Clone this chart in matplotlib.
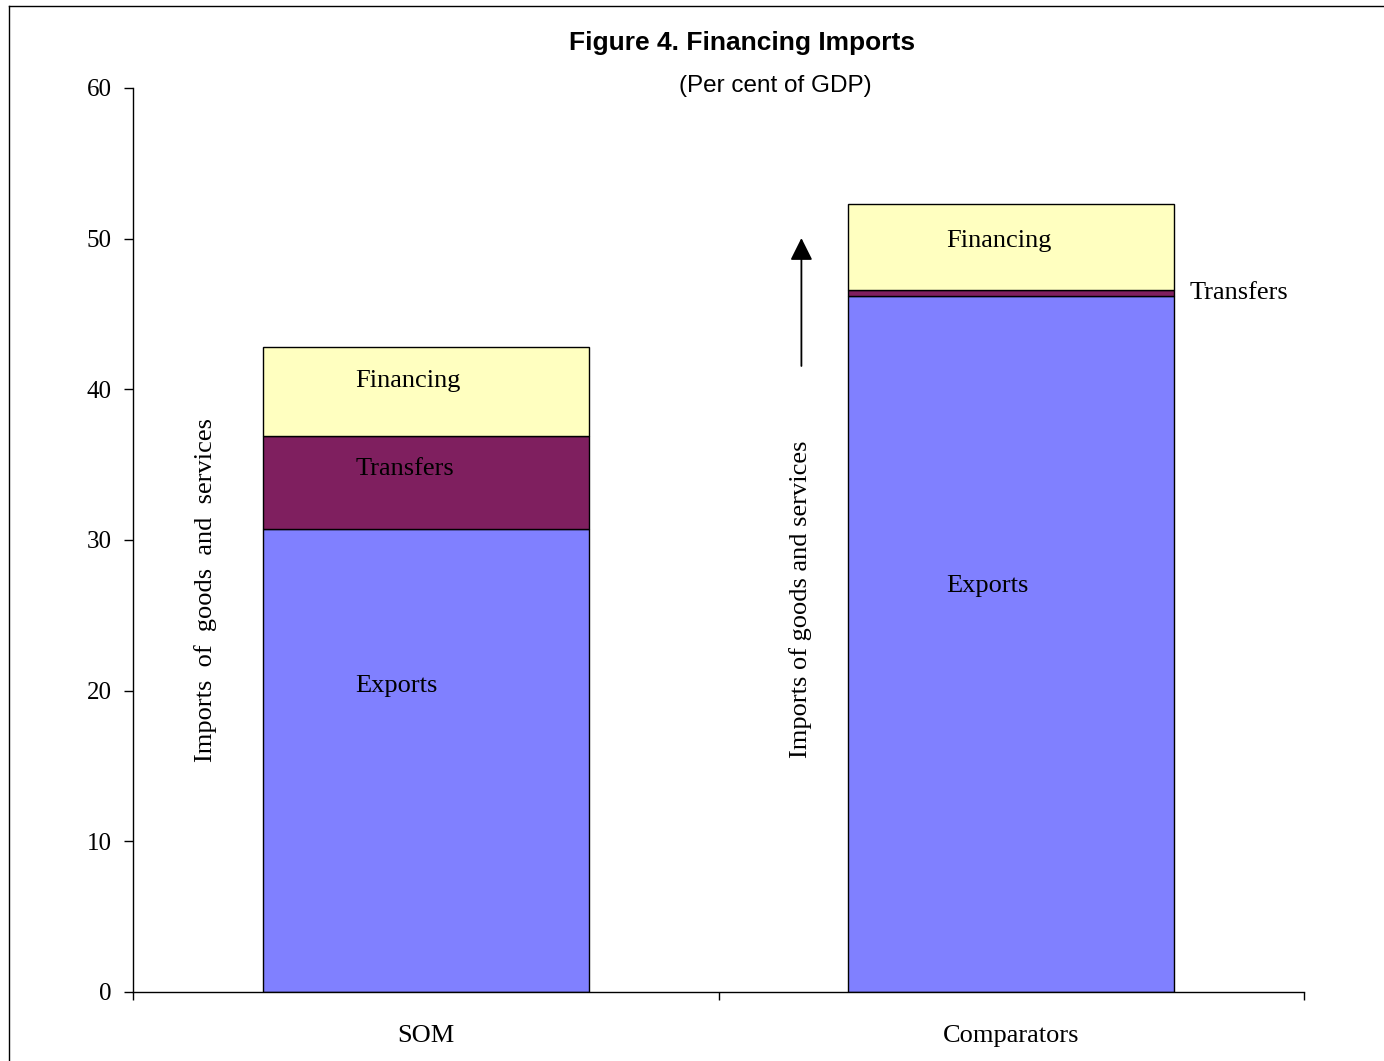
import matplotlib
matplotlib.use("Agg")
import matplotlib.pyplot as plt
from matplotlib.lines import Line2D

categories = ["SOM", "Comparators"]
exports = [30.7, 46.2]
transfers = [6.2, 0.4]
financing = [5.9, 5.7]
yticks = [0, 10, 20, 30, 40, 50, 60]

c_exp = "#8080FF"
c_tr = "#7F1F5F"
c_fin = "#FFFFC0"

fig = plt.figure(figsize=(13.84, 10.61), dpi=100)
ax = fig.add_axes([133/1384, 1-992/1061, (1304-133)/1384, (992-88)/1061])

x = list(range(len(categories)))
w = 0.556
bot2 = [a + b for a, b in zip(exports, transfers)]
ax.bar(x, exports, w, color=c_exp, edgecolor="black", linewidth=1)
ax.bar(x, transfers, w, bottom=exports, color=c_tr, edgecolor="black", linewidth=1)
ax.bar(x, financing, w, bottom=bot2, color=c_fin, edgecolor="black", linewidth=1)

ax.set_xlim(-0.5, 1.5)
ax.set_ylim(0, 60)
ax.set_yticks(yticks)
ax.set_yticklabels([str(t) for t in yticks], family="Liberation Serif", fontsize=18)
ax.set_xticks([-0.5, 0.5, 1.5])
ax.set_xticklabels([])
ax.tick_params(axis="y", direction="out", length=6.5, width=1, pad=9)
ax.tick_params(axis="x", direction="out", length=6, width=1)
for s in ["top", "right"]:
    ax.spines[s].set_visible(False)
for s in ["left", "bottom"]:
    ax.spines[s].set_linewidth(1)

serif = dict(family="Liberation Serif", fontsize=19)
for i, c in enumerate(categories):
    ax.text(i, -2.9, c, ha="center", va="center", **serif)

# SOM labels
ax.text(-w/2 + 0.158, 40.55, "Financing", ha="left", va="center", **serif)
ax.text(-w/2 + 0.158, 34.71, "Transfers", ha="left", va="center", **serif)
ax.text(-w/2 + 0.158, 20.34, "Exports", ha="left", va="center", **serif)
# Comparators labels
ax.text(1 - w/2 + 0.167, 49.84, "Financing", ha="left", va="center", **serif)
ax.text(1 - w/2 + 0.167, 26.97, "Exports", ha="left", va="center", **serif)
ax.text(1 + w/2 + 0.026, 46.4, "Transfers", ha="left", va="center", **serif)

ax.text(-0.376, 26.7, "Imports  of  goods  and  services", rotation=90, ha="center", va="center", **serif)
ax.text(0.640, 26.1, "Imports of goods and services", rotation=90, ha="center", va="center", **serif)

ax.annotate("", xy=(0.6416, 50.04), xytext=(0.6416, 41.55),
            arrowprops=dict(arrowstyle="-|>,head_length=0.68,head_width=0.34", mutation_scale=20,
                            shrinkA=0, shrinkB=0, color="black", lw=1.3))

fig.text(742/1384, 1-43/1061, "Figure 4. Financing Imports", ha="center", va="center",
         family="Liberation Sans", fontweight="bold", fontsize=19)
fig.text(775/1384, 1-86/1061, "(Per cent of GDP)", ha="center", va="center",
         family="Liberation Sans", fontsize=17.5)

# outer frame (top and left edges visible)
fig.add_artist(Line2D([9/1384, 9/1384], [0, 1-6/1061], transform=fig.transFigure, color="black", lw=1))
fig.add_artist(Line2D([9/1384, 1], [1-6/1061, 1-6/1061], transform=fig.transFigure, color="black", lw=1))

fig.savefig("out.png", dpi=100)
